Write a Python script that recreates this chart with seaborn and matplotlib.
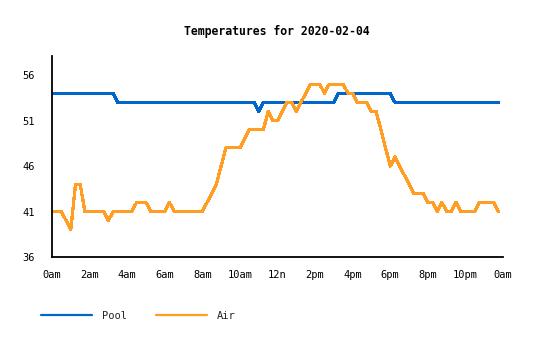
import matplotlib
matplotlib.use("Agg")
import matplotlib.pyplot as plt
import seaborn as sns
import pandas as pd

title = "Temperatures for 2020-02-04"
series_names = ["Pool", "Air"]
series_colors = ["#0066cc", "#ff9e22"]

pool_hours = [0, 3.25, 3.5, 10.75, 11.0, 11.25, 15.0, 15.25, 18.0, 18.25, 23.75]
pool_temps = [54, 54, 53, 53, 52, 53, 53, 54, 54, 53, 53]

air_hours = [0, 0.5, 1.0, 1.25, 1.5, 1.75, 2.75, 3.0, 3.25, 4.25, 4.5, 5.0, 5.25, 6.0, 6.25, 6.5,
             8.0, 8.25, 8.5, 8.75, 9.25, 10.0, 10.5, 11.25, 11.5, 11.75, 12.0, 12.5, 12.75, 13.0,
             13.75, 14.25, 14.5, 14.75, 15.5, 15.75, 16.0, 16.25, 16.75, 17.0, 17.25, 18.0, 18.25,
             19.25, 19.75, 20.0, 20.25, 20.5, 20.75, 21.0, 21.25, 21.5, 21.75, 22.5, 22.75, 23.5, 23.75]
air_temps = [41, 41, 39, 44, 44, 41, 41, 40, 41, 41, 42, 42, 41, 41, 42, 41,
             41, 42, 43, 44, 48, 48, 50, 50, 52, 51, 51, 53, 53, 52,
             55, 55, 54, 55, 55, 54, 54, 53, 53, 52, 52, 46, 47,
             43, 43, 42, 42, 41, 42, 41, 41, 42, 41, 41, 42, 42, 41]

x_ticks = [0, 2, 4, 6, 8, 10, 12, 14, 16, 18, 20, 22, 24]
x_tick_labels = ["0am", "2am", "4am", "6am", "8am", "10am", "12n", "2pm", "4pm", "6pm", "8pm", "10pm", "0am"]
y_ticks = [36, 41, 46, 51, 56]

df = pd.concat([
    pd.DataFrame({"hour": pool_hours, "temp": pool_temps, "series": "Pool"}),
    pd.DataFrame({"hour": air_hours, "temp": air_temps, "series": "Air"}),
], ignore_index=True)

sns.set_style("white")
plt.rcParams["font.family"] = ["DejaVu Sans Mono"]

fig = plt.figure(figsize=(5.35, 3.4), dpi=100)
ax = fig.add_axes([52 / 535, 1 - 257 / 340, (503 - 52) / 535, (257 - 56) / 340])

sns.lineplot(data=df, x="hour", y="temp", hue="series", hue_order=series_names,
             palette=series_colors, linewidth=1.6, ax=ax, legend=True, estimator=None,
             sort=False, antialiased=False)

ax.set_xlim(0, 24)
ax.set_ylim(36, 58.1)
ax.set_xticks(x_ticks)
ax.set_xticklabels(x_tick_labels)
ax.set_yticks(y_ticks)
ax.set_xlabel("")
ax.set_ylabel("")
for s in ["top", "right"]:
    ax.spines[s].set_visible(False)
for s in ["left", "bottom"]:
    ax.spines[s].set_color("black")
    ax.spines[s].set_linewidth(1.3)
ax.tick_params(axis="both", which="major", direction="out", length=5.5, width=1.3,
               color="black", labelsize=7.5, labelcolor="black")
ax.tick_params(axis="y", pad=7)
ax.tick_params(axis="x", pad=3.5)
ax.grid(False)

fig.text(0.518, 1 - 31 / 340, title, ha="center", va="center", fontsize=8.3,
         fontweight="bold", color="black")

handles, labels = ax.get_legend_handles_labels()
ax.get_legend().remove()
fig.legend(handles, labels, loc="center left", bbox_to_anchor=(41 / 535, 1 - 316 / 340),
           ncol=2, frameon=False, fontsize=7.5, borderpad=0, borderaxespad=0,
           handlelength=4.9, handletextpad=1.0, columnspacing=2.7)

fig.savefig("out.png", dpi=100)
